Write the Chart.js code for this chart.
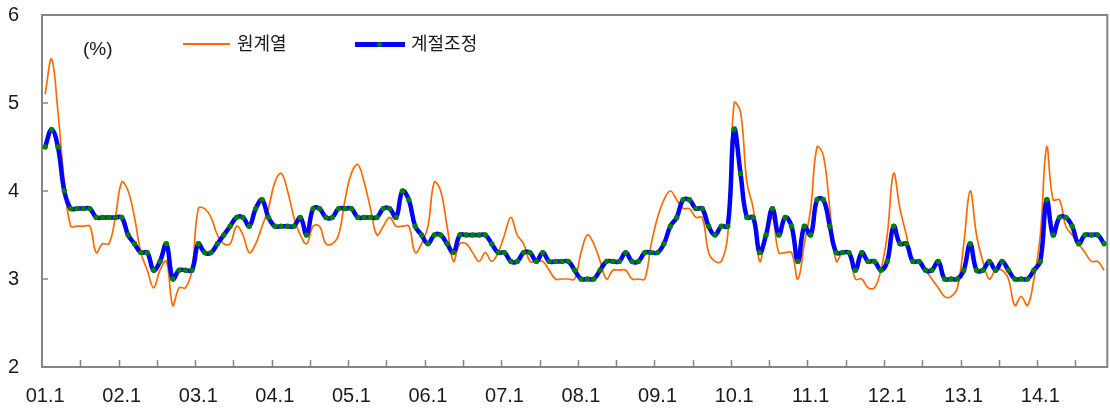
<!DOCTYPE html>
<html><head><meta charset="utf-8">
<script src="https://cdn.jsdelivr.net/npm/chart.js@4/dist/chart.umd.min.js"></script>
<style>
html,body{margin:0;padding:0;background:#fff;}
#wrap{position:relative;width:1110px;height:410px;overflow:hidden;}
canvas{position:absolute;left:0;top:0;}
.t{position:absolute;font-family:"Liberation Sans",Arial,sans-serif;color:#1a1a1a;white-space:nowrap;line-height:1;}
.k{font-family:"Noto Sans CJK KR","Noto Sans",sans-serif;}
</style></head><body>
<div id="wrap">
<canvas id="c" width="1110" height="410"></canvas>
<div class="t" style="left:83px;top:39px;font-size:19px;">(%)</div>
<div style="position:absolute;left:183px;top:43px;width:47px;height:2px;background:#ff6a00"></div>
<div class="t k" style="left:237px;top:33px;font-size:18px;">원계열</div>
<div style="position:absolute;left:355px;top:42px;width:50px;height:5px;background:#0000ff;"></div>
<div style="position:absolute;left:376.5px;top:42px;width:5px;height:5px;border-radius:50%;background:#008000"></div>
<div class="t k" style="left:411px;top:33px;font-size:18px;">계절조정</div>
</div>
<script>
// 원계열 (original), monthly, Jan 2001 - Nov 2014
const original = [
 5.1,5.5,4.9,4.1,3.6,3.6,3.6,3.6,3.3,3.4,3.4,3.7,
 4.1,4.0,3.7,3.3,3.1,2.9,3.1,3.2,2.7,2.9,2.9,3.1,
 3.8,3.8,3.7,3.5,3.4,3.4,3.6,3.5,3.3,3.4,3.6,3.8,
 4.1,4.2,4.0,3.7,3.5,3.4,3.6,3.6,3.4,3.4,3.5,3.9,
 4.2,4.3,4.1,3.8,3.5,3.6,3.7,3.6,3.6,3.6,3.3,3.4,
 3.6,4.1,4.0,3.6,3.2,3.4,3.4,3.3,3.2,3.3,3.2,3.3,
 3.5,3.7,3.5,3.4,3.2,3.2,3.2,3.1,3.0,3.0,3.0,3.0,
 3.3,3.5,3.4,3.2,3.0,3.1,3.1,3.1,3.0,3.0,3.0,3.4,
 3.7,3.9,4.0,3.9,3.8,3.8,3.7,3.7,3.3,3.2,3.2,3.5,
 5.0,4.9,4.1,3.8,3.2,3.5,3.7,3.3,3.3,3.3,3.0,3.4,
 3.8,4.5,4.4,3.8,3.2,3.3,3.3,3.0,3.0,2.9,2.9,3.1,
 3.5,4.2,3.8,3.5,3.2,3.2,3.1,3.0,2.9,2.8,2.8,2.9,
 3.4,4.0,3.5,3.2,3.0,3.1,3.1,3.0,2.7,2.8,2.7,3.0,
 3.5,4.5,3.9,3.9,3.6,3.5,3.4,3.3,3.2,3.2,3.1
];
// 계절조정 (seasonally adjusted)
const adjusted = [
 4.5,4.7,4.5,4.0,3.8,3.8,3.8,3.8,3.7,3.7,3.7,3.7,
 3.7,3.5,3.4,3.3,3.3,3.1,3.2,3.4,3.0,3.1,3.1,3.1,
 3.4,3.3,3.3,3.4,3.5,3.6,3.7,3.7,3.6,3.8,3.9,3.7,
 3.6,3.6,3.6,3.6,3.7,3.5,3.8,3.8,3.7,3.7,3.8,3.8,
 3.8,3.7,3.7,3.7,3.7,3.8,3.8,3.7,4.0,3.9,3.6,3.5,
 3.4,3.5,3.5,3.4,3.3,3.5,3.5,3.5,3.5,3.5,3.4,3.3,
 3.3,3.2,3.2,3.3,3.3,3.2,3.3,3.2,3.2,3.2,3.2,3.1,
 3.0,3.0,3.0,3.1,3.2,3.2,3.2,3.3,3.2,3.2,3.3,3.3,
 3.3,3.4,3.6,3.7,3.9,3.9,3.8,3.8,3.6,3.5,3.6,3.6,
 4.7,4.2,3.7,3.7,3.3,3.5,3.8,3.5,3.7,3.6,3.2,3.6,
 3.5,3.9,3.9,3.6,3.3,3.3,3.3,3.1,3.3,3.2,3.2,3.1,
 3.2,3.6,3.4,3.4,3.2,3.2,3.1,3.1,3.2,3.0,3.0,3.0,
 3.1,3.4,3.1,3.1,3.2,3.1,3.2,3.1,3.0,3.0,3.0,3.1,
 3.2,3.9,3.5,3.7,3.7,3.6,3.4,3.5,3.5,3.5,3.4
];
const yearLabels = ['01','02','03','04','05','06','07','08','09','10','11','12','13','14'];
const xTickLabels = ['01.1','02.1','03.1','04.1','05.1','06.1','07.1','08.1','09.1','10.1','11.1','12.1','13.1','14.1'];
const yTicks = [2,3,4,5,6];

const categories = [];
for (let i = 0; i < original.length; i++) {
  categories.push(yearLabels[Math.floor(i/12)] + '.' + (i%12 + 1));
}

const frame = {
  id: 'frame',
  beforeDatasetsDraw(chart) {
    const {ctx, chartArea: a, scales: {x, y}} = chart;
    ctx.save();
    ctx.strokeStyle = '#858585';
    ctx.lineWidth = 2;
    ctx.strokeRect(a.left, a.top, a.right - a.left, a.bottom - a.top);
    ctx.lineWidth = 1.5;
    ctx.beginPath();
    yTicks.forEach(v => { const py = y.getPixelForValue(v); ctx.moveTo(a.left, py); ctx.lineTo(a.left + 6, py); });
    const half = (x.getPixelForValue(1) - x.getPixelForValue(0)) / 2;
    for (let i = 6; i < categories.length; i += 6) {
      const px = Math.round(x.getPixelForValue(i) - half) + 0.5;
      ctx.moveTo(px, a.bottom); ctx.lineTo(px, a.bottom - 7);
    }
    ctx.stroke();
    ctx.restore();
  }
};

new Chart(document.getElementById('c'), {
  type: 'line',
  data: {
    labels: categories,
    datasets: [
      { label: '계절조정', data: adjusted, borderColor: '#0000ff', borderWidth: 4.5,
        pointRadius: 2.7, pointBackgroundColor: '#008000', pointBorderWidth: 0,
        pointHoverRadius: 2.7, tension: 0.4, fill: false },
      { label: '원계열', data: original, borderColor: '#ff6a00', borderWidth: 1.7,
        pointRadius: 0, tension: 0.4, fill: false }
    ]
  },
  options: {
    responsive: false,
    animation: false,
    devicePixelRatio: 1,
    layout: { padding: { top: 15, right: 0.5, left: 0, bottom: 0 } },
    plugins: { legend: { display: false }, tooltip: { enabled: false } },
    scales: {
      x: {
        type: 'category', offset: true,
        grid: { display: false, drawTicks: false }, border: { display: false },
        afterFit: s => { s.height = 43; s.paddingLeft = 0; s.paddingRight = 0; },
        ticks: {
          autoSkip: false, maxRotation: 0, minRotation: 0, padding: 17,
          color: '#1a1a1a', font: { family: '"Liberation Sans", Arial, sans-serif', size: 20 },
          callback: (v, i) => (i % 12 === 0 ? xTickLabels[i / 12] : '')
        }
      },
      y: {
        min: 2, max: 6,
        grid: { display: false, drawTicks: false }, border: { display: false },
        afterFit: s => { s.width = 42; s.paddingTop = 0; s.paddingBottom = 0; },
        afterBuildTicks: s => { s.ticks = yTicks.map(v => ({ value: v })); },
        ticks: {
          padding: 23, color: '#1a1a1a',
          font: { family: '"Liberation Sans", Arial, sans-serif', size: 20 }
        }
      }
    }
  },
  plugins: [frame]
});
</script>
</body></html>
